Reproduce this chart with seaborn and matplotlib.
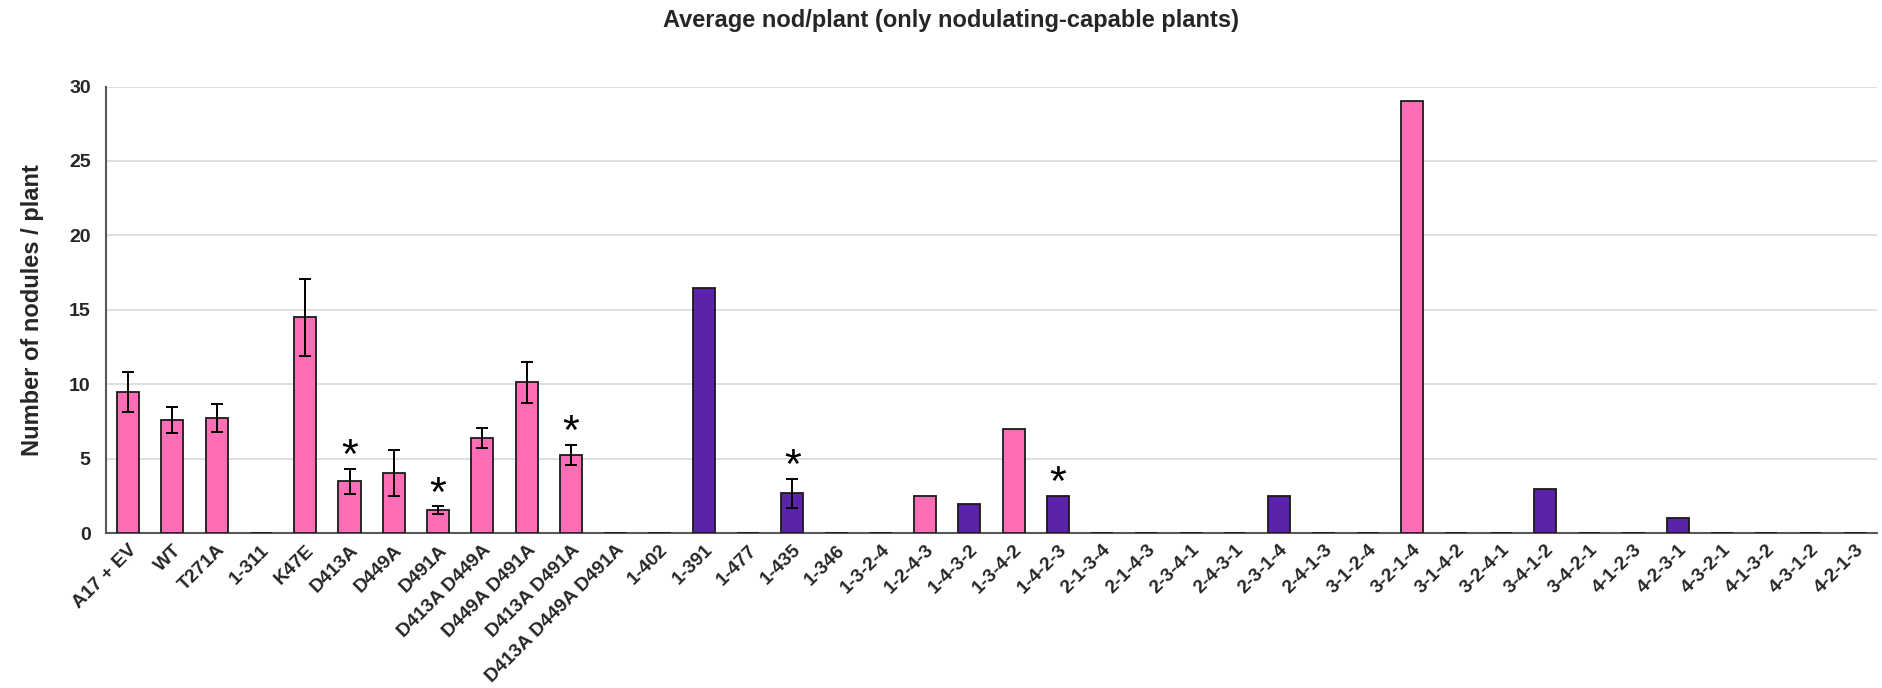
import numpy as np
import pandas as pd
import seaborn as sns
import matplotlib.pyplot as plt

# Constructs shown along the x axis
constructs = [
    "A17 + EV", "WT", "T271A", "1-311", "K47E", "D413A", "D449A", "D491A",
    "D413A D449A", "D449A D491A", "D413A D491A", "D413A D449A D491A",
    "1-402", "1-391", "1-477", "1-435", "1-346", "1-3-2-4", "1-2-4-3",
    "1-4-3-2", "1-3-4-2", "1-4-2-3", "2-1-3-4", "2-1-4-3", "2-3-4-1",
    "2-4-3-1", "2-3-1-4", "2-4-1-3", "3-1-2-4", "3-2-1-4", "3-1-4-2",
    "3-2-4-1", "3-4-1-2", "3-4-2-1", "4-1-2-3", "4-2-3-1", "4-3-2-1",
    "4-1-3-2", "4-3-1-2", "4-2-1-3",
]

# Mean nodules per plant
nodules = [
    9.5, 7.6, 7.75, 0, 14.5, 3.5, 4.05, 1.55,
    6.4, 10.15, 5.25, 0,
    0, 16.5, 0, 2.7, 0, 0, 2.5,
    2.0, 7.0, 2.5, 0, 0, 0,
    0, 2.5, 0, 0, 29.0, 0,
    0, 3.0, 0, 0, 1.0, 0,
    0, 0, 0,
]

# Standard error (nan = no error bar)
sem = [
    1.33, 0.88, 0.95, np.nan, 2.6, 0.84, 1.55, 0.26,
    0.7, 1.37, 0.67, np.nan,
    np.nan, np.nan, np.nan, 0.97, np.nan, np.nan, np.nan,
    np.nan, np.nan, np.nan, np.nan, np.nan, np.nan,
    np.nan, np.nan, np.nan, np.nan, np.nan, np.nan,
    np.nan, np.nan, np.nan, np.nan, np.nan, np.nan,
    np.nan, np.nan, np.nan,
]

# Colour group of each bar
group = [
    "pink", "pink", "pink", "pink", "pink", "pink", "pink", "pink",
    "pink", "pink", "pink", "pink",
    "pink", "purple", "pink", "purple", "pink", "pink", "pink",
    "purple", "pink", "purple", "pink", "pink", "pink",
    "pink", "purple", "pink", "pink", "pink", "pink",
    "pink", "purple", "pink", "pink", "purple", "pink",
    "pink", "pink", "pink",
]

# Significance marks
significant = [
    False, False, False, False, False, True, False, True,
    False, False, True, False,
    False, False, False, True, False, False, False,
    False, False, True, False, False, False,
    False, False, False, False, False, False,
    False, False, False, False, False, False,
    False, False, False,
]

df = pd.DataFrame({
    "construct": constructs,
    "nodules": nodules,
    "sem": sem,
    "group": group,
    "significant": significant,
})

sns.set_theme(style="white")
plt.rcParams["font.family"] = ["Liberation Sans", "DejaVu Sans"]
plt.rcParams["font.weight"] = "bold"

fig, ax = plt.subplots(figsize=(18.83, 6.88), dpi=100)
fig.subplots_adjust(left=106 / 1883, right=1877 / 1883,
                    top=1 - 86.5 / 688, bottom=1 - 533.3 / 688)

palette = {"pink": "#FF6EB4", "purple": "#5A23A9"}
sns.barplot(data=df, x="construct", y="nodules", hue="group",
            palette=palette, saturation=1, dodge=False, width=0.5,
            edgecolor="#1a1a1a", linewidth=1.3, legend=False,
            errorbar=None, ax=ax, zorder=3)

# Error bars and significance stars at the category positions
pos = np.arange(len(df))
has_err = df["sem"].notna().to_numpy()
ax.errorbar(pos[has_err], df["nodules"][has_err], yerr=df["sem"][has_err],
            fmt="none", ecolor="black", elinewidth=1.4, capsize=4.5,
            capthick=1.4, zorder=4)

top = df["nodules"] + df["sem"].fillna(0)
for x, y, s in zip(pos, top, df["significant"]):
    if s:
        ax.text(x, y + 0.05, "*", ha="center", va="baseline",
                fontsize=31, fontweight="normal", color="black")

ax.set_ylim(0, 30)
ax.set_yticks(range(0, 31, 5))
ax.set_xlim(-0.5, len(df) - 0.5)
ax.yaxis.grid(True, color="#d9d9d9", linewidth=1.2, zorder=0)
ax.set_axisbelow(True)

for side in ("top", "right"):
    ax.spines[side].set_visible(False)
for side in ("left", "bottom"):
    ax.spines[side].set_color("#595959")
    ax.spines[side].set_linewidth(1.5)

ax.tick_params(axis="y", length=0, pad=11, labelsize=14)
ax.tick_params(axis="x", length=0, pad=6, labelsize=13.8)
plt.setp(ax.get_xticklabels(), rotation=45, ha="right",
         rotation_mode="anchor", fontweight="bold")
plt.setp(ax.get_yticklabels(), fontweight="bold")

ax.set_xlabel("")
ax.set_ylabel("Number of nodules / plant", fontsize=17, fontweight="bold",
              labelpad=18)
fig.suptitle("Average nod/plant (only nodulating-capable plants)",
             fontsize=17, fontweight="bold", x=0.505, y=1 - 21 / 688,
             va="center")

fig.savefig("out.png", dpi=100)
